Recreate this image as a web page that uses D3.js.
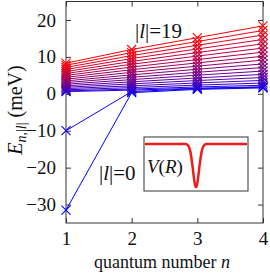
<!DOCTYPE html>
<html>
<head>
  <script src="https://d3js.org/d3.v7.min.js"></script>
  <style>
    body { margin: 0; background: #fff; }
  </style>
</head>
<body>
<div id="chart"></div>
<script>
  // quantum numbers on the x axis
  const nValues = [1, 2, 3, 4];
  const xTicks = [1, 2, 3, 4];
  const yTicks = [-30, -20, -10, 0, 10, 20];

  // energies E_{n,|l|} in meV, one row per |l| = 0..19, columns n = 1..4
  const energies = [
    [-31.5, 0.3, 1.2, 1.6],
    [-10.0, 0.6, 1.4, 1.8],
    [0.60, 1.00, 1.50, 1.90],
    [0.79, 1.28, 1.85, 2.32],
    [1.08, 1.68, 2.35, 2.92],
    [1.41, 2.15, 2.94, 3.63],
    [1.77, 2.68, 3.59, 4.41],
    [2.17, 3.24, 4.29, 5.26],
    [2.59, 3.84, 5.04, 6.16],
    [3.03, 4.47, 5.82, 7.11],
    [3.49, 5.13, 6.64, 8.09],
    [3.97, 5.81, 7.49, 9.12],
    [4.46, 6.52, 8.37, 10.18],
    [4.97, 7.25, 9.28, 11.27],
    [5.50, 8.00, 10.21, 12.39],
    [6.03, 8.76, 11.17, 13.54],
    [6.58, 9.55, 12.14, 14.72],
    [7.14, 10.35, 13.14, 15.92],
    [7.72, 11.17, 14.16, 17.15],
    [8.30, 12.00, 15.20, 18.40]
  ];

  // inset: potential V(R), normalised
  const insetR = [0, 0.35, 0.40, 0.42, 0.44, 0.45, 0.46, 0.47, 0.48, 0.49, 0.50,
                  0.51, 0.52, 0.53, 0.54, 0.55, 0.56, 0.58, 0.60, 0.65, 1];
  const insetV = [0, 0, 0, -0.03, -0.13, -0.25, -0.41, -0.6, -0.8, -0.95, -1,
                  -0.95, -0.8, -0.6, -0.41, -0.25, -0.13, -0.03, 0, 0, 0];

  const serif = "'Liberation Serif', 'Times New Roman', 'DejaVu Serif', serif";

  const width = 270, height = 276;
  const margin = { top: 1.5, right: 7, bottom: 53, left: 66 };
  const innerWidth = width - margin.left - margin.right;
  const innerHeight = height - margin.top - margin.bottom;

  const svg = d3.select("#chart").append("svg")
    .attr("width", width).attr("height", height)
    .style("font-family", serif);

  const g = svg.append("g")
    .attr("transform", `translate(${margin.left},${margin.top})`);

  const x = d3.scaleLinear().domain([1, 4]).range([0, innerWidth]);
  const y = d3.scaleLinear().domain([-35, 25]).range([innerHeight, 0]);

  const color = l => d3.interpolateRgb("#0000ff", "#ff0000")(l / 19);

  // axes with inward ticks on all four sides
  const axisColor = "#333";
  const styleAxis = sel => {
    sel.attr("font-family", null).attr("font-size", null);
    sel.select(".domain").remove();
    sel.selectAll("line").attr("stroke", axisColor);
    sel.selectAll("text").style("font-family", serif).attr("font-size", 19).attr("fill", "#111");
  };
  const noLabels = sel => sel.selectAll("text").remove();

  g.append("g").attr("transform", `translate(0,${innerHeight})`)
    .call(d3.axisBottom(x).tickValues(xTicks).tickSizeInner(-5).tickSizeOuter(0).tickPadding(9).tickFormat(d3.format("d")))
    .call(styleAxis);
  g.append("g")
    .call(d3.axisTop(x).tickValues(xTicks).tickSizeInner(-5).tickSizeOuter(0))
    .call(styleAxis).call(noLabels);
  g.append("g")
    .call(d3.axisLeft(y).tickValues(yTicks).tickSizeInner(-5).tickSizeOuter(0).tickPadding(10)
      .tickFormat(d => d < 0 ? "\u2212" + Math.abs(d) : d))
    .call(styleAxis);
  g.append("g").attr("transform", `translate(${innerWidth},0)`)
    .call(d3.axisRight(y).tickValues(yTicks).tickSizeInner(-5).tickSizeOuter(0))
    .call(styleAxis).call(noLabels);

  g.append("rect")
    .attr("width", innerWidth).attr("height", innerHeight)
    .attr("fill", "none").attr("stroke", axisColor).attr("stroke-width", 1);

  // series
  const line = d3.line().x((d, i) => x(nValues[i])).y(d => y(d));
  const s = 4.5;
  energies.forEach((row, l) => {
    const c = color(l);
    g.append("path").datum(row)
      .attr("d", line).attr("fill", "none")
      .attr("stroke", c).attr("stroke-width", 1);
    g.append("g").selectAll("path").data(row).join("path")
      .attr("d", (d, i) => {
        const cx = x(nValues[i]), cy = y(d);
        return `M${cx - s},${cy - s}L${cx + s},${cy + s}M${cx - s},${cy + s}L${cx + s},${cy - s}`;
      })
      .attr("stroke", c).attr("stroke-width", 1.1).attr("fill", "none");
  });

  // annotations
  const ann = (tx, ty, label) => {
    const t = g.append("text").attr("x", tx).attr("y", ty)
      .style("font-family", serif).attr("font-size", 21).attr("fill", "#111");
    t.append("tspan").text("|");
    t.append("tspan").attr("font-style", "italic").text("l");
    t.append("tspan").text("|=" + label);
  };
  ann(135 - margin.left, 38 - margin.top, "19");
  ann(99 - margin.left, 180 - margin.top, "0");

  // inset
  const inset = svg.append("g").attr("transform", "translate(144,137)");
  const iw = 104, ih = 54;
  inset.append("rect").attr("width", iw).attr("height", ih)
    .attr("fill", "#fff").attr("stroke", axisColor).attr("stroke-width", 1);
  const ix = d3.scaleLinear().domain([0, 1]).range([1, iw - 1]);
  const iy = d3.scaleLinear().domain([-1, 0]).range([50, 7]);
  inset.append("path")
    .datum(insetR.map((r, i) => [r, insetV[i]]))
    .attr("d", d3.line().x(d => ix(d[0])).y(d => iy(d[1])).curve(d3.curveMonotoneX))
    .attr("fill", "none").attr("stroke", "#ee1c1c").attr("stroke-width", 2.5);
  const vt = inset.append("text").attr("x", 3).attr("y", 36)
    .style("font-family", serif).attr("font-size", 19).attr("fill", "#111");
  vt.append("tspan").attr("font-style", "italic").text("V");
  vt.append("tspan").text("(");
  vt.append("tspan").attr("font-style", "italic").text("R");
  vt.append("tspan").text(")");

  // axis labels
  const xl = svg.append("text")
    .attr("x", 162).attr("y", 268)
    .style("font-family", serif)
    .attr("text-anchor", "middle").attr("font-size", 18).attr("fill", "#111");
  xl.append("tspan").text("quantum number ");
  xl.append("tspan").attr("font-style", "italic").text("n");

  const yl = svg.append("text")
    .attr("transform", `translate(22,110) rotate(-90)`)
    .style("font-family", serif)
    .attr("text-anchor", "middle").attr("font-size", 20).attr("fill", "#111");
  yl.append("tspan").attr("font-style", "italic").text("E");
  yl.append("tspan").attr("font-size", 14).attr("dy", 4).attr("font-style", "italic").text("n");
  yl.append("tspan").attr("font-size", 14).text(",|");
  yl.append("tspan").attr("font-size", 14).attr("font-style", "italic").text("l");
  yl.append("tspan").attr("font-size", 14).text("|");
  yl.append("tspan").attr("dy", -4).text(" (meV)");
</script>
</body>
</html>
